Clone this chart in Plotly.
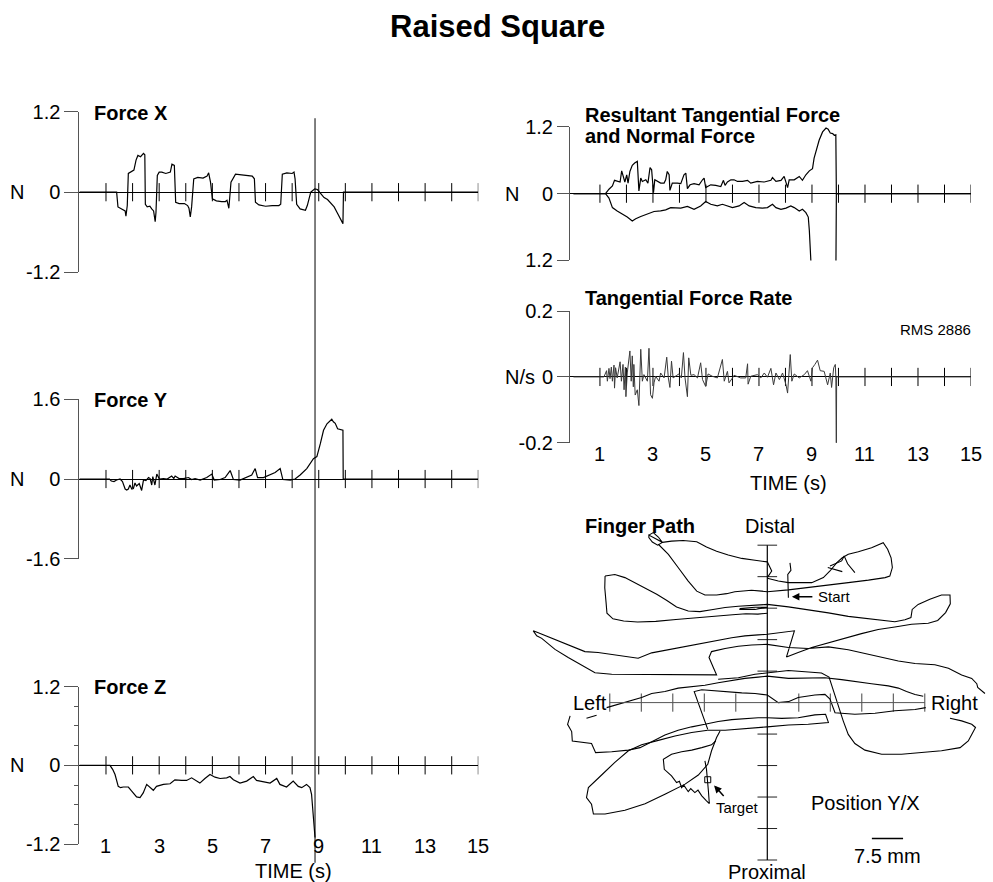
import plotly.graph_objects as go

W, H = 993, 882
FONT = "Liberation Sans, Arial, Helvetica, sans-serif"

# ---------------- data ----------------
time_ticks = list(range(1, 16))
time_labels = [1, 3, 5, 7, 9, 11, 13, 15]
marker_time = 8.86

fx_t = [0, 1.40, 1.45, 1.55, 1.65, 1.72, 1.75, 1.80, 1.84, 1.92, 1.97, 2.05, 2.13, 2.20, 2.30, 2.41, 2.46,
        2.48, 2.55, 2.65, 2.72, 2.79, 2.85, 2.88, 2.93, 3.00, 3.10, 3.25, 3.42, 3.48, 3.57, 3.62, 3.75, 3.95,
        4.07, 4.12, 4.17, 4.22, 4.30, 4.45, 4.65, 4.80, 4.86, 4.93, 5.00, 5.15, 5.35, 5.49, 5.55, 5.62, 5.70,
        5.80, 5.87, 6.10, 6.30, 6.50, 6.58, 6.62, 6.75, 7.00, 7.25, 7.50, 7.57, 7.63, 7.80, 8.00, 8.07, 8.11,
        8.17, 8.30, 8.50, 8.57, 8.70, 8.85, 8.95, 9.08, 9.20, 9.33, 9.45, 9.58, 9.70, 9.77, 9.85, 9.91, 9.93, 15]
fx_v = [0, 0, -0.22, -0.24, -0.26, -0.28, -0.36, -0.20, 0.28, 0.30, 0.31, 0.33, 0.48, 0.55, 0.53, 0.58, 0.56,
        -0.18, -0.22, -0.21, -0.25, -0.28, -0.44, -0.30, 0.25, 0.30, 0.30, 0.28, 0.30, 0.42, 0.40, -0.15, -0.17, -0.17,
        -0.20, -0.24, -0.37, -0.22, 0.20, 0.22, 0.21, 0.24, 0.29, 0.15, -0.10, -0.13, -0.14, -0.14, -0.12, -0.24, 0.15,
        0.22, 0.27, 0.26, 0.25, 0.24, 0.20, -0.15, -0.19, -0.21, -0.20, -0.20, -0.18, 0.27, 0.29, 0.28, 0.30, 0.20,
        -0.18, -0.25, -0.27, -0.20, 0.0, 0.05, 0.04, -0.02, -0.08, -0.11, -0.16, -0.22, -0.31, -0.36, -0.42, -0.47, 0.0, 0]

fy_t = [0, 1.13, 1.20, 1.30, 1.40, 1.53, 1.62, 1.72, 1.78, 1.84, 1.90, 1.97, 2.03, 2.09, 2.15, 2.25, 2.34, 2.41,
        2.50, 2.60, 2.66, 2.72, 2.76, 2.84, 2.91, 3.01, 3.16, 3.30, 3.47, 3.55, 3.60, 3.75, 3.91, 4.10, 4.22, 4.35,
        4.54, 4.79, 4.98, 5.07, 5.29, 5.48, 5.67, 5.79, 6.04, 6.29, 6.48, 6.61, 6.70, 6.92, 7.17, 7.36, 7.55, 7.65,
        7.93, 8.11, 8.30, 8.55, 8.80, 8.93, 9.06, 9.18, 9.31, 9.49, 9.55, 9.62, 9.71, 9.81, 9.91, 9.92, 15]
fy_v = [0, 0, -0.04, -0.05, -0.02, 0, -0.05, -0.20, -0.22, -0.20, -0.12, -0.20, -0.19, -0.08, -0.14, -0.09, -0.23, -0.02,
        -0.03, 0.03, 0.01, -0.12, 0.05, -0.12, 0.10, 0.0, 0.01, 0.0, 0.06, 0.01, 0.06, 0.01, 0.01, 0.03, -0.01, 0.01,
        -0.02, 0.03, 0.10, -0.02, -0.01, 0.03, 0.17, -0.01, -0.02, 0.03, 0.08, 0.21, 0.03, 0.03, 0.08, 0.13, 0.21, -0.01,
        -0.02, 0.0, 0.08, 0.21, 0.41, 0.45, 0.71, 0.98, 1.11, 1.20, 1.15, 1.12, 1.01, 0.99, 0.98, 0, 0]

fz_t = [0, 1.15, 1.25, 1.34, 1.46, 1.55, 1.65, 1.84, 1.96, 2.15, 2.28, 2.40, 2.53, 2.65, 2.78, 2.90, 3.16, 3.41,
        3.59, 3.84, 4.03, 4.22, 4.41, 4.53, 4.72, 4.91, 5.10, 5.29, 5.54, 5.66, 5.79, 6.04, 6.29, 6.54, 6.66, 6.91,
        7.17, 7.42, 7.54, 7.79, 8.04, 8.23, 8.36, 8.54, 8.67, 8.73, 8.79, 8.84, 8.86]
fz_v = [0, 0, -0.06, -0.14, -0.32, -0.34, -0.33, -0.33, -0.39, -0.48, -0.49, -0.42, -0.29, -0.34, -0.38, -0.32, -0.29, -0.28,
        -0.22, -0.23, -0.23, -0.19, -0.24, -0.27, -0.20, -0.14, -0.18, -0.20, -0.19, -0.17, -0.22, -0.27, -0.24, -0.17, -0.23, -0.25,
        -0.27, -0.20, -0.29, -0.33, -0.24, -0.32, -0.34, -0.29, -0.34, -0.44, -0.70, -1.00, -1.10]
fz_minor = [-0.9, -0.6, -0.3, 0.3, 0.6, 0.9]

tan_t = [0, 1.21, 1.34, 1.47, 1.55, 1.65, 1.76, 1.82, 1.88, 1.94, 2.01, 2.06, 2.13, 2.22, 2.31, 2.41, 2.47, 2.54,
         2.60, 2.73, 2.81, 2.89, 2.95, 3.02, 3.07, 3.17, 3.29, 3.42, 3.48, 3.54, 3.61, 3.64, 3.73, 3.92, 4.05, 4.17,
         4.24, 4.30, 4.40, 4.55, 4.74, 4.87, 4.93, 4.99, 5.18, 5.37, 5.56, 5.66, 5.72, 5.81, 5.94, 6.06, 6.19, 6.38,
         6.57, 6.69, 6.94, 7.20, 7.45, 7.51, 7.64, 7.83, 7.95, 8.08, 8.14, 8.33, 8.52, 8.64, 8.77, 8.90, 9.02, 9.08,
         9.19, 9.27, 9.40, 9.53, 9.61, 9.69, 9.78, 9.84, 9.90, 9.92, 15]
tan_v = [0, 0, 0.08, 0.14, 0.24, 0.22, 0.21, 0.41, 0.31, 0.21, 0.34, 0.19, 0.40, 0.51, 0.55, 0.58, 0.05, 0.28,
         0.22, 0.25, 0.19, 0.47, 0.43, 0.02, 0.25, 0.22, 0.19, 0.19, 0.25, 0.40, 0.34, 0.06, 0.19, 0.19, 0.18, 0.34,
         0.37, 0.09, 0.16, 0.18, 0.16, 0.25, 0.28, 0.11, 0.16, 0.15, 0.13, 0.24, 0.15, 0.21, 0.25, 0.25, 0.22, 0.22,
         0.24, 0.19, 0.22, 0.21, 0.24, 0.29, 0.22, 0.24, 0.31, 0.11, 0.25, 0.25, 0.31, 0.24, 0.34, 0.41, 0.45, 0.64,
         0.81, 0.96, 1.11, 1.18, 1.16, 1.09, 1.08, 1.05, 1.06, 0, 0]

norm_t = [0, 1.21, 1.34, 1.47, 1.65, 1.84, 2.03, 2.22, 2.35, 2.54, 2.73, 2.85, 3.04, 3.29, 3.48, 3.67, 3.86, 4.05,
          4.30, 4.55, 4.80, 4.99, 5.18, 5.43, 5.62, 5.81, 6.00, 6.25, 6.44, 6.63, 6.88, 7.13, 7.32, 7.51, 7.64, 7.83,
          8.02, 8.20, 8.33, 8.52, 8.64, 8.77, 8.86, 8.90, 8.93, 8.98, 9.00, 9.90, 9.92, 15]
norm_v = [0, 0, -0.08, -0.25, -0.31, -0.36, -0.42, -0.49, -0.45, -0.41, -0.38, -0.35, -0.32, -0.31, -0.29, -0.25, -0.26, -0.26,
          -0.23, -0.28, -0.22, -0.14, -0.19, -0.22, -0.19, -0.22, -0.25, -0.22, -0.16, -0.22, -0.25, -0.26, -0.25, -0.19, -0.25, -0.28,
          -0.26, -0.22, -0.25, -0.31, -0.28, -0.34, -0.42, -0.66, -0.89, -1.19, -1.6, -1.6, 0, 0]

rate_t = [0, 1.15, 1.25, 1.28, 1.34, 1.38, 1.43, 1.47, 1.53, 1.55, 1.59, 1.65, 1.76, 1.81, 1.87, 1.91, 1.96, 1.98,
          2.03, 2.10, 2.13, 2.18, 2.22, 2.26, 2.28, 2.33, 2.41, 2.47, 2.54, 2.60, 2.66, 2.79, 2.85, 2.91, 2.98, 3.04,
          3.10, 3.23, 3.29, 3.42, 3.52, 3.58, 3.64, 3.70, 3.76, 3.90, 3.98, 4.07, 4.15, 4.21, 4.30, 4.35, 4.43, 4.55,
          4.68, 4.80, 4.87, 4.99, 5.08, 5.24, 5.43, 5.62, 5.69, 5.81, 5.87, 6.00, 6.06, 6.31, 6.50, 6.57, 6.59, 6.69,
          6.94, 7.07, 7.20, 7.32, 7.45, 7.55, 7.64, 7.77, 7.89, 8.02, 8.08, 8.18, 8.24, 8.33, 8.52, 8.71, 8.83, 8.96,
          9.02, 9.11, 9.21, 9.31, 9.46, 9.59, 9.69, 9.74, 9.82, 9.88, 9.90, 9.92, 9.93, 15]
rate_v = [0, 0, 0.019, -0.013, 0.026, -0.005, 0.030, -0.013, 0.036, -0.034, 0.028, -0.003, 0.046, -0.013, 0.038, -0.039, 0.030, -0.060,
          0.012, 0.051, 0.079, -0.013, 0.064, -0.030, 0.038, -0.055, -0.039, -0.087, 0.084, -0.013, 0.007, -0.013, 0.087, -0.054, -0.065, -0.018,
          0.002, -0.013, 0.012, -0.003, 0.060, -0.003, -0.032, 0.048, -0.003, 0.005, 0.009, -0.003, 0.074, -0.003, -0.060, 0.058, 0.005, 0.007,
          -0.003, 0.043, -0.008, -0.029, 0.009, 0.002, -0.003, 0.053, -0.013, 0.017, -0.018, -0.003, 0.005, -0.003, -0.003, 0.040, -0.022, 0.002,
          0.007, -0.003, 0.012, -0.001, 0.026, -0.024, 0.012, -0.008, 0.012, -0.024, -0.049, 0.068, -0.013, 0.009, -0.003, 0.007, 0.019, -0.013,
          0.028, 0.038, 0.051, 0.019, 0.017, -0.024, 0.012, -0.032, 0.028, 0.038, 0.0, -0.25, 0, 0]
rms_value = 2886

# finger path (mm), strokes separated by None
path_x = [-37.6, -36.2, -34.6, -33.3, -34.8, -36.5, -37.6, -37.6, -33.3, -30.4, -26.7, -22.4, -19.3, -16.1, -12.4, -8.1, -3.9, 0, 1.4, 0, None,
          -34.6, -31.4, -28.3, -25.1, -22.4, -19.8, -16.1, -12.9, -10.3, -8.1, -5.0, -1.8, 0, 6.7, 13.0, 19.4, 25.7, 32.1, 37.4, 38.9, 39.7, 39.3,
          38.2, 36.8, 33.1, 28.9, 25.7, 23.8, 22.0, 19.9, 17.8, 14.1, 9.8, 6.7, 3.5, 0, None,
          19.9, 22.0, 23.6, 24.4, 25.5, 27.8, None, 19.2, 23.8, None,
          7.2, 7.5, 6.5, 6.7, None,
          -8.7, -3.9, 0, -3.9, -8.7, -8.7, None,
          -51.5, -48.4, -45.2, -42.0, -38.8, -35.1, -32.0, -28.8, -25.1, -21.4, -17.7, -13.4, -9.2, -5.0, 0, 6.7, 13.0, 19.4, 25.7, 31.0,
          36.3, 40.5, 43.7, 45.6, 46.0, 47.9, 51.6, 55.3, 58.0, 58.1, 56.6, 54.1, 51.1, 45.8, 40.5, 35.2, 29.9, 24.7, 19.4, 14.1, 9.8, 6.1,
          8.6, 4.6, 0, -2.9, -7.1, -11.3, -15.6, -19.8, -24.0, -28.3, -32.5, -36.7, -41.0, -45.2, -49.4, -53.7, -57.9, -61.1, -64.2, -68.5,
          -72.7, -74.3, -73.2, -71.6, -67.4, -63.2, -58.9, -54.7, -49.4, -42.0, -34.6, -27.2, -19.8, -16.1, -17.1, -18.5, -17.7, -13.4, -9.2,
          -5.0, 0, 6.7, 13.0, 19.4, 25.7, 31.0, 36.3, 41.6, 46.9, 53.2, 57.5, 61.7, 64.9, 66.5, 66.8, 69.1, None,
          -51.5, -51.6, -51.2, -50.9, -49.0, -45.6, -41.2, -35.4, -29.0, -23.7, -19.4, -15.2, -11.0, -6.8, -3.0, 0, None,
          -51.0, -45.2, -39.9, -36.7, -32.5, -28.3, -24.0, -19.8, -15.6, -11.3, -7.1, -2.9, 0, 6.7, 13.0, 18.3, 23.6, 27.8, 33.1, 38.4, 41.6,
          44.2, 46.9, 49.5, None, -57.4, -54.2, None,
          -15.6, -9.2, -3.9, 0, 6.7, 12.0, 17.2, 19.6, 21.0, 22.5, 24.1, 25.7, 27.8, 31.0, 36.3, 42.6, 49.0, 55.3, 61.2, 63.8, 64.9, 66.1,
          64.9, 61.7, 58.0, None,
          -18.9, -20.3, -21.9, -23.2, -20.8, -16.6, -12.4, -8.1, -3.9, 0, 3.5, 6.7, 9.8, 15.1, 18.3, 19.9, 21.5, 27.8, 34.2, 40.5, 46.9, 50.3, None,
          -62.6, -63.4, -62.1, -61.9, -55.8, -54.5, -49.4, -44.1, -40.4, -36.2, -32.5, -28.3, -24.0, -19.8, -15.6, -11.3, -7.1, -2.9, 0, 4.6,
          9.8, 15.1, 18.5, 19.4, 13.0, 6.7, 0, -2.9, -8.1, -13.4, -18.9, None,
          -15.0, -16.1, -17.7, -18.9, -21.9, -26.1, -32.5, -38.8, -45.2, -51.5, -55.2, -55.8, -57.4, -56.8, -52.6, -48.4, -44.1, -39.9, -34.6,
          -29.3, -24.0, -18.9, None,
          -16.4, -17.7, -20.8, -24.0, -27.2, -30.4, -33.0, -32.7, -30.4, -28.8, -27.9, -27.2, -26.5, -25.1, -24.3, -23.0, -22.0, -20.8, -19.3,
          -18.4, -18.7, -18.9, -19.3, -19.8]
path_y = [53.2, 54.0, 52.6, 50.9, 50.0, 51.0, 52.4, 53.2, 50.9, 51.3, 51.5, 51.1, 49.4, 48.1, 46.9, 45.8, 45.2, 44.7, 41.8, 39.7, None,
          50.3, 47.1, 42.9, 38.6, 35.4, 34.2, 34.2, 34.6, 35.2, 35.4, 35.7, 35.4, 35.2, 35.8, 36.5, 37.2, 38.1, 38.9, 39.7, 40.2, 42.9, 46.0,
          48.7, 50.8, 49.2, 47.9, 47.1, 46.0, 44.4, 41.8, 39.7, 38.1, 38.1, 38.1, 38.6, 39.5, None,
          43.4, 44.4, 45.0, 46.6, 44.1, 41.3, None, 42.9, 41.6, None,
          44.4, 42.0, 40.7, 33.3, None,
          29.9, 30.3, 30.3, 29.6, 29.6, 29.9, None,
          40.2, 40.7, 39.7, 38.1, 36.3, 34.4, 32.5, 30.4, 29.1, 28.9, 29.5, 30.2, 30.6, 30.8, 31.2, 30.4, 29.5, 28.5, 27.4, 26.8,
          26.2, 25.7, 26.3, 27.0, 29.6, 31.2, 32.8, 34.2, 34.2, 31.4, 28.6, 26.1, 25.2, 24.9, 24.0, 23.2, 21.9, 20.4, 18.9, 17.5, 15.9, 14.5,
          22.8, 22.2, 21.7, 21.5, 21.2, 20.6, 19.8, 19.0, 18.3, 17.5, 16.6, 15.8, 14.1, 14.7, 15.3, 15.9, 16.2, 17.5, 19.0, 20.6,
          22.2, 22.8, 21.2, 20.4, 16.9, 14.3, 12.0, 9.5, 9.0, 9.0, 9.0, 9.0, 8.8, 8.8, 11.1, 14.3, 16.2, 17.2, 17.9,
          18.3, 18.5, 17.5, 17.2, 17.7, 16.8, 15.6, 14.3, 13.2, 12.4, 12.0, 10.9, 8.8, 7.7, 6.0, 4.8, 2.9, None,
          40.2, 36.5, 32.0, 28.4, 26.6, 25.9, 25.6, 25.8, 26.4, 26.9, 27.3, 27.5, 27.9, 28.2, 28.1, 28.4, None,
          -1.6, 0, 1.6, 2.9, 3.5, 4.6, 5.0, 5.5, 6.3, 7.1, 7.7, 8.1, 8.4, 7.7, 7.9, 7.9, 7.3, 6.8, 6.0, 5.3, 4.6,
          3.5, 2.6, 2.0, None, -5.0, -4.0, None,
          7.4, 7.9, 9.0, 9.4, 10.2, 9.8, 9.4, 8.1, 3.7, -1.1, -5.8, -10.1, -13.0, -15.1, -16.4, -16.4, -15.9, -15.3, -14.3, -12.2, -10.1, -7.9,
          -6.9, -5.8, -5.0, None,
          -8.5, -4.8, -0.3, 3.5, 4.1, 3.7, 3.3, 3.1, 2.9, 2.4, 0, 0.3, 1.6, 2.4, 2.6, 1.1, -3.2, -3.7, -3.4, -2.6, -2.2, -1.6, None,
          -4.2, -6.9, -9.2, -12.2, -13.0, -15.9, -15.6, -15.1, -14.3, -12.2, -10.3, -8.8, -7.7, -6.9, -6.0, -5.4, -5.0, -4.8, -4.8, -5.0,
          -4.8, -3.9, -3.7, -6.3, -6.9, -7.1, -7.7, -7.9, -8.4, -8.8, -8.8, None,
          -9.0, -11.1, -15.3, -19.6, -23.0, -25.9, -29.1, -32.1, -34.2, -35.4, -35.4, -32.3, -30.2, -27.0, -23.0, -19.0, -15.3, -13.4, -12.0,
          -10.6, -9.5, -8.8, None,
          -12.2, -13.4, -14.3, -15.1, -15.6, -16.4, -18.0, -21.2, -23.3, -25.4, -25.0, -27.0, -26.2, -28.3, -27.3, -28.6, -27.8, -29.6, -31.2,
          -32.1, -28.0, -24.7, -21.2, -18.5]
start_pt = (7.8, 33.6)
target_pt = (-18.9, -24.5)
path_ticks = [-50, -40, -30, -20, -10, 10, 20, 30, 40, 50]
path_extent = 50
scale_bar = (33.2, 43.1, -43.2)   # x0, x1, y in mm (labelled 7.5 mm)

# ---------------- helpers ----------------
# vertical mapping from reference pixel rows to paper fraction (compensates the rendered page height)
V_TOP, V_SPAN = 9.7, 860.5


def px(x):
    return x / W


def py(y):
    return 1 - (y - V_TOP) / V_SPAN


fig = go.Figure()


def add_line(x, y, n, color="black", width=1.2):
    fig.add_trace(go.Scatter(x=x, y=y, xaxis="x" + (str(n) if n > 1 else ""), yaxis="y" + (str(n) if n > 1 else ""),
                             mode="lines", line=dict(color=color, width=width), hoverinfo="skip",
                             showlegend=False, connectgaps=False))


def add_ticks(n):
    fig.add_trace(go.Scatter(x=time_ticks, y=[0] * len(time_ticks), xaxis="x" + (str(n) if n > 1 else ""),
                             yaxis="y" + (str(n) if n > 1 else ""), mode="markers",
                             marker=dict(symbol="line-ns", size=13, color="black", line=dict(width=1, color="black")),
                             hoverinfo="skip", showlegend=False))


for n in range(1, 6):
    add_ticks(n)
add_line(fx_t, fx_v, 1)
add_line(fy_t, fy_v, 2)
add_line(fz_t, fz_v, 3)
add_line(tan_t, tan_v, 4)
add_line(norm_t, norm_v, 4)
add_line(rate_t, rate_v, 5, color="#3a3a3a", width=1)

# finger path
fig.add_trace(go.Scatter(x=path_ticks, y=[0] * len(path_ticks), xaxis="x6", yaxis="y6", mode="markers",
                         marker=dict(symbol="line-ns", size=13, line=dict(width=1, color="#444")),
                         hoverinfo="skip", showlegend=False))
fig.add_trace(go.Scatter(x=[0] * len(path_ticks), y=path_ticks, xaxis="x6", yaxis="y6", mode="markers",
                         marker=dict(symbol="line-ew", size=14, line=dict(width=1, color="#222")),
                         hoverinfo="skip", showlegend=False))
add_line(path_x, path_y, 6, width=1.1)
fig.add_trace(go.Scatter(x=[target_pt[0]], y=[target_pt[1]], xaxis="x6", yaxis="y6", mode="markers",
                         marker=dict(symbol="square-open", size=6, color="black", line=dict(width=1)),
                         hoverinfo="skip", showlegend=False))

# ---------------- axes ----------------
tickfont = dict(family=FONT, size=20, color="black")


def yax(dom_px, rng, vals, texts, anchor, ticklen=14, minor=None):
    d = dict(domain=[py(dom_px[1]), py(dom_px[0])], range=rng, anchor=anchor, showline=True, linecolor="#555",
             linewidth=1, ticks="outside", ticklen=ticklen, tickcolor="#555", tickwidth=1, tickmode="array",
             tickvals=vals, ticktext=texts, showgrid=False, zeroline=True, zerolinecolor="black",
             zerolinewidth=1, tickfont=tickfont, fixedrange=True)
    if minor:
        d["minor"] = dict(tickmode="array", tickvals=minor, ticks="outside", ticklen=4, tickcolor="#555", showgrid=False)
    return d


def xax(dom_px, rng, anchor):
    return dict(domain=[px(dom_px[0]), px(dom_px[1])], range=rng, anchor=anchor, visible=False,
                showgrid=False, zeroline=False, fixedrange=True)


left_x = (79.4, 478.3)
right_x = (570, 971)
path_top, path_bottom = 515, 868
path_cx, path_cy, path_scale = 767.3, 701.7, 3.15   # centre pixel and px per mm
layout = dict(
    width=W, height=H, margin=dict(l=0, r=0, t=0, b=0), autosize=False,
    paper_bgcolor="white", plot_bgcolor="rgba(0,0,0,0)", showlegend=False,
    font=dict(family=FONT, size=20, color="black"),
    xaxis=xax(left_x, [0, 15], "y"),
    yaxis=yax((110.7, 271.3), [-1.2, 1.2], [-1.2, 0, 1.2], ["-1.2", "0", "1.2"], "x"),
    xaxis2=xax(left_x, [0, 15], "y2"),
    yaxis2=yax((398.3, 557.7), [-1.6, 1.6], [-1.6, 0, 1.6], ["-1.6", "0", "1.6"], "x2"),
    xaxis3=xax(left_x, [0, 15], "y3"),
    yaxis3=yax((685.7, 843.3), [-1.2, 1.2], [-1.2, 0, 1.2], ["-1.2", "0", "1.2"], "x3", minor=fz_minor),
    xaxis4=xax(right_x, [-0.13, 15], "y4"),
    yaxis4=yax((125.7, 259.3), [-1.2, 1.2], [-1.2, 0, 1.2], ["1.2", "0", "1.2"], "x4", ticklen=12),
    xaxis5=xax(right_x, [-0.13, 15], "y5"),
    yaxis5=yax((310, 441.7), [-0.2, 0.2], [-0.2, 0, 0.2], ["-0.2", "0", "0.2"], "x5", ticklen=12),
    xaxis6=dict(domain=[px(520), 1.0], range=[(520 - path_cx) / path_scale, (993 - path_cx) / path_scale],
                anchor="y6", visible=False, fixedrange=True),
    yaxis6=dict(domain=[py(path_bottom), py(path_top)],
                range=[(path_cy - path_bottom) / path_scale, (path_cy - path_top) / path_scale],
                anchor="x6", visible=False, fixedrange=True),
)
fig.update_layout(**layout)

# ---------------- shapes ----------------
shapes = [
    dict(type="line", xref="x", yref="paper", x0=marker_time, x1=marker_time, y0=py(862), y1=py(117),
         line=dict(color="black", width=1)),
    dict(type="line", xref="x6", yref="y6", x0=-path_extent, x1=path_extent, y0=0, y1=0,
         line=dict(color="#555", width=1)),
    dict(type="line", xref="x6", yref="y6", x0=0, x1=0, y0=-path_extent, y1=path_extent,
         line=dict(color="black", width=1.2)),
    dict(type="line", xref="x6", yref="y6", x0=scale_bar[0], x1=scale_bar[1], y0=scale_bar[2], y1=scale_bar[2],
         line=dict(color="black", width=1.5)),
]
fig.update_layout(shapes=shapes)

# ---------------- annotations ----------------
ann = []


def text(x, y, s, size=20, bold=False, anchor="center", xref="paper", yref="paper"):
    ann.append(dict(x=x, y=y, xref=xref, yref=yref, text=("<b>%s</b>" % s) if bold else s, showarrow=False,
                    xanchor=anchor, yanchor="middle", font=dict(family=FONT, size=size, color="black")))


text(px(497), py(25), "Raised Square", size=31, bold=True)
text(px(92), py(112), "Force X", bold=True, anchor="left")
text(px(92), py(399), "Force Y", bold=True, anchor="left")
text(px(92), py(686), "Force Z", bold=True, anchor="left")
for yy in (191, 478.3, 764):
    text(px(17), py(yy), "N")
text(px(583), py(114), "Resultant Tangential Force", bold=True, anchor="left")
text(px(583), py(135), "and Normal Force", bold=True, anchor="left")
text(px(512), py(193.3), "N")
text(px(583), py(297), "Tangential Force Rate", bold=True, anchor="left")
text(px(520), py(376), "N/s")
text(px(935), py(328), "RMS %d" % rms_value, size=15)
for t in time_labels:
    text(t, py(845), str(t), xref="x3")
    text(t, py(453), str(t), xref="x5")
text(px(293), py(870), "TIME (s)")
text(px(788), py(482), "TIME (s)")

text(px(583), py(525), "Finger Path", bold=True, anchor="left")
text(px(770), py(525), "Distal")
text(px(767), py(871), "Proximal")
text(px(590), py(702), "Left")
text(px(954), py(702), "Right")
text(px(865), py(802), "Position Y/X")
text(px(887), py(855), "7.5 mm")
text(px(834), py(596), "Start", size=15)
text(px(737), py(807), "Target", size=15)

ann.append(dict(x=start_pt[0], y=start_pt[1], xref="x6", yref="y6", ax=22, ay=0, text="", showarrow=True,
                arrowhead=2, arrowsize=1, arrowwidth=1.5, arrowcolor="black"))
ann.append(dict(x=target_pt[0] + 2.0, y=target_pt[1] - 1.8, xref="x6", yref="y6", ax=11, ay=12, text="",
                showarrow=True, arrowhead=2, arrowsize=1, arrowwidth=1.5, arrowcolor="black"))
fig.update_layout(annotations=ann)

fig.write_html("out.html")
